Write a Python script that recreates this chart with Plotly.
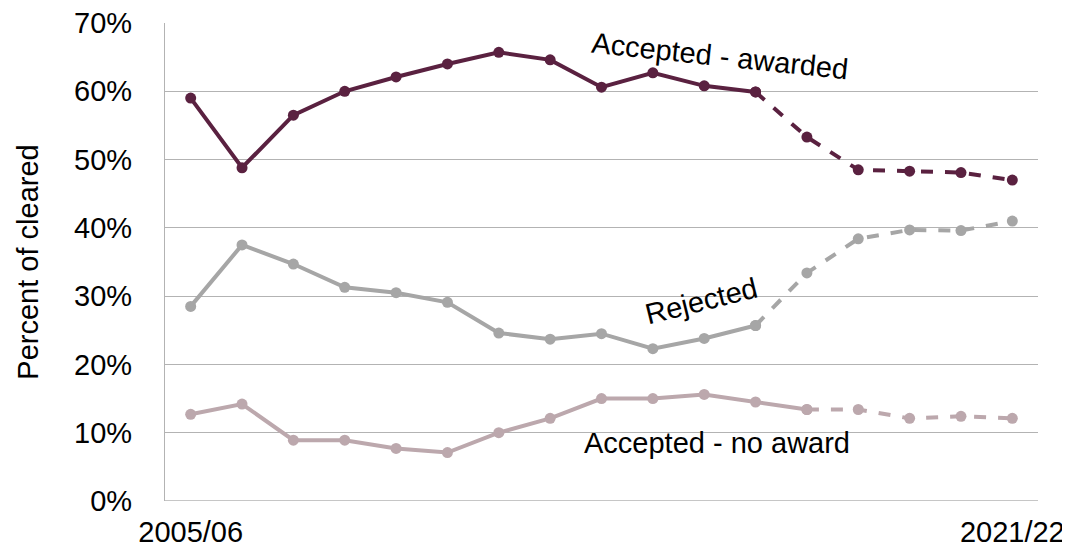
import plotly.graph_objects as go

years = ["2005/06", "2006/07", "2007/08", "2008/09", "2009/10", "2010/11", "2011/12",
         "2012/13", "2013/14", "2014/15", "2015/16", "2016/17", "2017/18", "2018/19",
         "2019/20", "2020/21", "2021/22"]
awarded = [59.0, 48.8, 56.5, 60.0, 62.1, 64.0, 65.7, 64.6, 60.6, 62.7, 60.8, 59.9,
           53.3, 48.5, 48.3, 48.1, 47.0]
rejected = [28.5, 37.5, 34.7, 31.3, 30.5, 29.1, 24.6, 23.7, 24.5, 22.3, 23.8, 25.7,
            33.4, 38.4, 39.7, 39.6, 41.0]
no_award = [12.7, 14.2, 8.9, 8.9, 7.7, 7.1, 10.0, 12.1, 15.0, 15.0, 15.6, 14.5,
            13.4, 13.4, 12.1, 12.4, 12.1]

series = [
    ("Accepted - awarded", awarded, "#5A2140", 11),
    ("Rejected", rejected, "#A6A6A6", 11),
    ("Accepted - no award", no_award, "#BCA8AD", 12),
]

fig = go.Figure()
for name, vals, color, split in series:
    fig.add_trace(go.Scatter(
        x=years[:split + 1], y=vals[:split + 1], mode="lines+markers",
        line=dict(color=color, width=4), marker=dict(color=color, size=11),
        name=name, showlegend=False, hoverinfo="x+y"))
    fig.add_trace(go.Scatter(
        x=years[split:], y=vals[split:], mode="lines+markers",
        line=dict(color=color, width=4, dash="dash"), marker=dict(color=color, size=11),
        name=name, showlegend=False, hoverinfo="x+y"))

font = dict(family="Liberation Sans, Arial, sans-serif", size=29, color="#000000")

fig.update_layout(
    width=1070, height=548,
    margin=dict(l=157, r=40, t=15, b=55),
    paper_bgcolor="white", plot_bgcolor="white",
    font=font,
    xaxis=dict(
        type="category", categoryorder="array", categoryarray=years,
        tickmode="array", tickvals=[years[0], years[-1]], ticktext=[years[0], years[-1]],
        showgrid=False, showline=False, zeroline=False, ticks="",
        ticklabelstandoff=11, automargin=False, ticklabeloverflow="allow",
        tickfont=font, range=[-0.5, len(years) - 0.5],
    ),
    yaxis=dict(
        range=[0, 70], tickvals=[0, 10, 20, 30, 40, 50, 60, 70],
        ticktext=["0%", "10%", "20%", "30%", "40%", "50%", "60%", "70%"],
        showgrid=True, gridcolor="#B3B3B3", gridwidth=1.3,
        showline=True, linecolor="#B3B3B3", linewidth=1.3,
        zeroline=False, ticks="", ticklabelstandoff=26, automargin=False,
        ticklabeloverflow="allow",
        tickfont=font,
        title=dict(text="Percent of cleared", font=font, standoff=26),
    ),
    annotations=[
        dict(text="Accepted - awarded", xref="paper", yref="y", x=0.636, y=65.2,
             showarrow=False, textangle=6, font=font),
        dict(text="Rejected", xref="paper", yref="y", x=0.614, y=29.3,
             showarrow=False, textangle=-14, font=font),
        dict(text="Accepted - no award", xref="paper", yref="y", x=0.632, y=8.5,
             showarrow=False, font=font),
    ],
)
fig.add_shape(type="line", xref="paper", yref="y", x0=0, x1=1, y0=0, y1=0,
              line=dict(color="#B3B3B3", width=1.3), layer="below")

fig.write_html("out.html")
